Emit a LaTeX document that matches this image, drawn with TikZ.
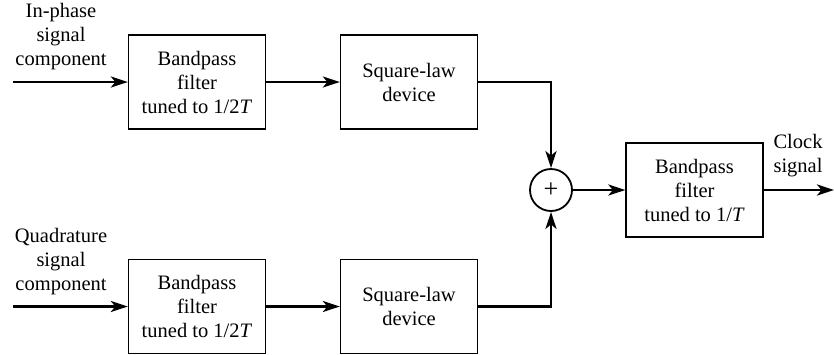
\documentclass[tikz,border=0pt]{standalone}
\usepackage{fontspec}
\setmainfont{Liberation Serif}
\usetikzlibrary{arrows.meta}
\begin{document}
\begin{tikzpicture}[x=1pt,y=-1pt,
  box/.style={draw, line width=1.3pt, minimum width=137pt, minimum height=94pt, align=center, inner sep=0pt},
  conn/.style={line width=2.7pt, -{Stealth[length=17pt,width=11pt,inset=4.5pt]}},
  lbl/.style={align=center, inner sep=0pt},
  font=\fontsize{20.5}{24}\selectfont]
\useasboundingbox (0,0) rectangle (834,354);
\node[box] (bpf1) at (197,82) {Bandpass\\filter\\tuned to 1/2\textit{T}};
\node[box] (sq1) at (409,82) {Square-law\\device};
\node[box] (bpf2) at (197,306.5) {Bandpass\\filter\\tuned to 1/2\textit{T}};
\node[box] (sq2) at (409,306.5) {Square-law\\device};
\node[draw, circle, line width=1.8pt, minimum size=42pt, inner sep=0pt, font=\fontsize{26}{26}\selectfont] (sum) at (551,190) {+};
\node[box] (bpf3) at (694.5,190) {Bandpass\\filter\\tuned to 1/\textit{T}};
\coordinate (in1) at (13,82);
\coordinate (in2) at (13,306.5);
\coordinate (out) at (834,190);
\node[lbl, anchor=south] (l1) at (61,70) {In-phase\\signal\\component};
\node[lbl, anchor=south] (l2) at (61,295) {Quadrature\\signal\\component};
\node[lbl, anchor=south] (l3) at (798,177) {Clock\\signal};
\draw[conn] (in1) -- (bpf1);
\draw[conn] (bpf1) -- (sq1);
\draw[conn] (in2) -- (bpf2);
\draw[conn] (bpf2) -- (sq2);
\draw[conn] (sq1.east) -| (sum.north);
\draw[conn] (sq2.east) -| (sum.south);
\draw[conn] (sum.east) -- (bpf3.west);
\draw[conn] (bpf3.east) -- (out);
\end{tikzpicture}
\end{document}
